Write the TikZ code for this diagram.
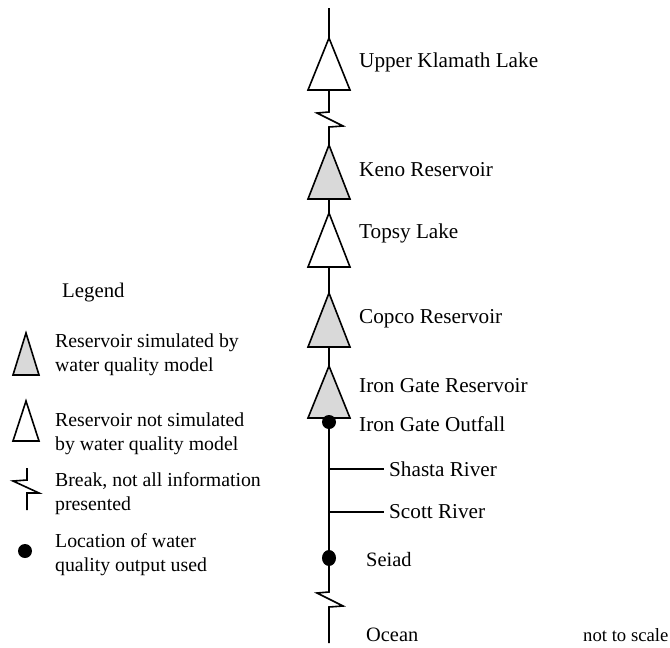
\documentclass[tikz,border=0pt]{standalone}
\usepackage{fontspec}
\usetikzlibrary{shapes.geometric}
\setmainfont{Liberation Serif}
\begin{document}
\begin{tikzpicture}[x=1pt,y=-1pt,
  river/.style={line width=1.6pt},
  resv/.style={line width=1.6pt,fill=white,line join=miter},
  resvsim/.style={resv,fill=black!15},
  lbl/.style={anchor=west,inner sep=0pt,font=\fontsize{21.2}{24}\selectfont},
  leg/.style={anchor=west,inner sep=0pt,align=left,font=\fontsize{19.8}{24}\selectfont},
  outdot/.style={circle,fill=black,inner sep=0pt,minimum size=14pt}]
\useasboundingbox (0,0) rectangle (670,648);
% main river coordinates
\coordinate (top) at (329,8);
% Upper Klamath Lake
\coordinate (uklA) at (329,38); \coordinate (uklB) at (329,90);
\draw[resv] (uklA) -- (350,90) -- (308,90) -- cycle;
% break 1
\coordinate (br1a) at (329,112); \coordinate (br1b) at (329,127);
% Keno
\coordinate (kenA) at (329,145); \coordinate (kenB) at (329,199);
\draw[resvsim] (kenA) -- (350,199) -- (308,199) -- cycle;
% Topsy
\coordinate (topA) at (329,213); \coordinate (topB) at (329,267);
\draw[resv] (topA) -- (350,267) -- (308,267) -- cycle;
% Copco
\coordinate (copA) at (329,293); \coordinate (copB) at (329,347);
\draw[resvsim] (copA) -- (350,347) -- (308,347) -- cycle;
% Iron Gate
\coordinate (irgA) at (329,366); \coordinate (irgB) at (329,418);
\draw[resvsim] (irgA) -- (350,418) -- (308,418) -- cycle;
% tributaries
\coordinate (sha) at (329,469); \coordinate (shaE) at (384,469);
\coordinate (sco) at (329,512); \coordinate (scoE) at (384,512);
% break 2
\coordinate (br2a) at (329,592); \coordinate (br2b) at (329,607);
\coordinate (bottom) at (329,643);

\draw[river] (top) -- (uklA);
\draw[river,line join=miter] (uklB) -- (br1a) -- (317,113) -- (343,126) -- (br1b) -- (kenA);
\draw[river] (kenB) -- (topA);
\draw[river] (topB) -- (copA);
\draw[river] (copB) -- (irgA);
\draw[river,line join=miter] (irgB) -- (br2a) -- (317,593) -- (343,606) -- (br2b) -- (bottom);
\draw[river] (sha) -- (shaE);
\draw[river] (sco) -- (scoE);

\node[outdot] (outfall) at (329,422) {};
\node[ellipse,fill=black,inner sep=0pt,minimum width=14pt,minimum height=16pt] (seiad) at (329,558) {};

% labels
\node[lbl] (l1) at (359,62) {Upper Klamath Lake};
\node[lbl] (l2) at (359,170) {Keno Reservoir};
\node[lbl] (l3) at (359,233) {Topsy Lake};
\node[lbl] (l4) at (359,319) {Copco Reservoir};
\node[lbl] (l5) at (359,386) {Iron Gate Reservoir};
\node[lbl] (l6) at (359,424) {Iron Gate Outfall};
\node[lbl] (l7) at (389,469) {Shasta River};
\node[lbl] (l8) at (389,512) {Scott River};
\node[lbl,font=\fontsize{20.4}{24}\selectfont] (l9) at (366,560) {Seiad};
\node[lbl,font=\fontsize{20.4}{24}\selectfont] (l10) at (366,635) {Ocean};
\node[lbl,font=\fontsize{18.7}{22}\selectfont] (nts) at (583,635) {not to scale};

% legend
\node[leg,font=\fontsize{20.8}{24}\selectfont] (legt) at (62,293) {Legend};
\draw[resvsim] (26,333) -- (39,375) -- (13,375) -- cycle;
\node[leg] (leg1) at (55,355) {Reservoir simulated by\\water quality model};
\draw[resv] (26,401) -- (39,441) -- (13,441) -- cycle;
\node[leg] (leg2) at (55,434) {Reservoir not simulated\\by water quality model};
\draw[river,line join=miter] (27,468) -- (27,480) -- (13,481) -- (39,493) -- (27,493) -- (27,510);
\node[leg] (leg3) at (55,494) {Break, not all information\\presented};
\node[outdot] (legdot) at (25,551) {};
\node[leg] (leg4) at (55,555) {Location of water\\quality output used};
\end{tikzpicture}
\end{document}
